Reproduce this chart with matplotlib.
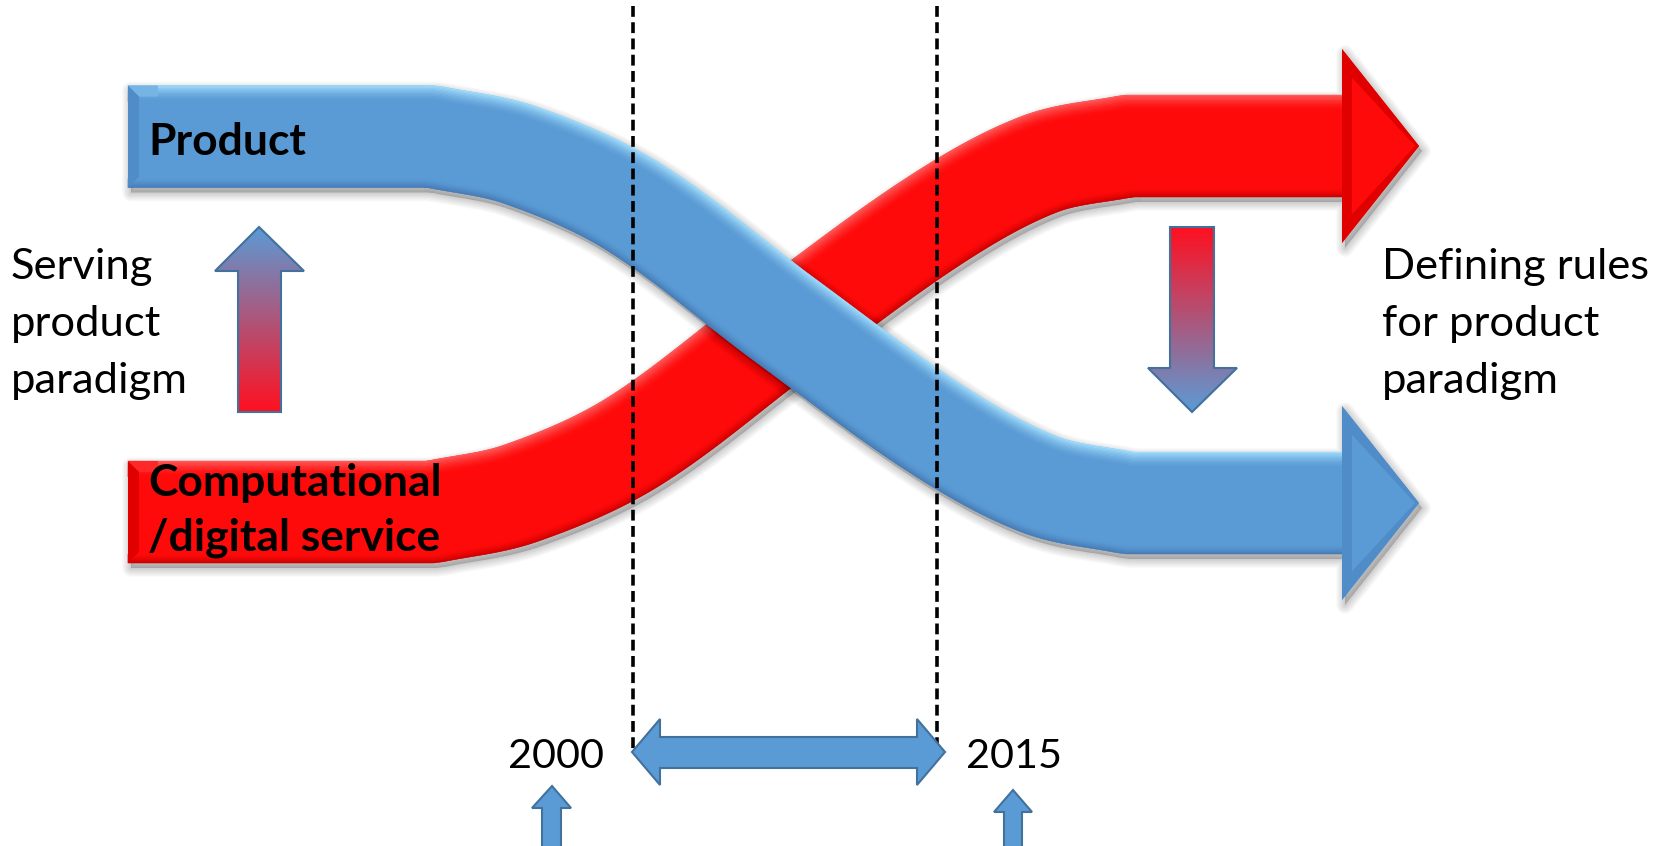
import numpy as np
import matplotlib
matplotlib.use("Agg")
import matplotlib.pyplot as plt
from matplotlib.patches import Polygon
from matplotlib.colors import to_rgb

# ---------------- data (pixel coordinates) ----------------
blue_center_x = [128, 432, 520, 633, 785, 937, 1040, 1128, 1342]
blue_center_y = [136.5, 136.5, 155, 206.5, 320, 429.5, 484.5, 503, 503]
red_center_x = [128, 432, 520, 633, 785, 937, 1040, 1128, 1342]
red_center_y = [512, 512, 493.5, 442, 328.5, 219, 164, 146, 146]
band_half_width = 51
head_tip_x = 1419
head_half_height = 97

up_arrow_x = [259, 304, 281, 281, 238, 238, 215]
up_arrow_y = [227, 271, 271, 412, 412, 271, 271]
down_arrow_x = [1192, 1237, 1214, 1214, 1170, 1170, 1148]
down_arrow_y = [412, 368, 368, 227, 227, 368, 368]
span_arrow_x = [632, 660, 660, 917, 917, 945, 917, 917, 660, 660]
span_arrow_y = [752, 719, 737, 737, 719, 752, 785, 768, 768, 785]
small_arrow_2000_x = [552, 571, 561, 561, 542, 542, 532]
small_arrow_2000_y = [786, 808, 808, 852, 852, 808, 808]
small_arrow_2015_x = [1013, 1032, 1022, 1022, 1004, 1004, 994]
small_arrow_2015_y = [790, 812, 812, 852, 852, 812, 812]
dashed_x = [633, 937]
dashed_y0 = [6, 6]
dashed_y1 = [750, 750]

left_lines = ["Serving", "product", "paradigm"]
right_lines = ["Defining rules", "for product", "paradigm"]
side_baselines = [279, 336, 393]
left_text_x = 11
right_text_x = 1382
product_label = "Product"
product_label_x, product_label_y = 148, 155
service_lines = ["Computational", "/digital service"]
service_baselines = [496, 550]
service_x = 148
year_labels = ["2000", "2015"]
year_x = [508, 966]
year_baseline = 768

BLUE = "#5B9BD5"
BLUE_LIGHT = "#A6E2FF"
BLUE_DARK = "#4479B3"
BLUE_HEAD_DARK = "#4F8CC8"
RED = "#FF0A0A"
RED_LIGHT = "#FF6060"
RED_DARK = "#C80000"
RED_HEAD_DARK = "#E00000"
EDGE = "#41719C"
FONT = "Lato"

W, H = 1667, 846
fig = plt.figure(figsize=(W / 100, H / 100), dpi=100)
fig.patch.set_facecolor("white")
ax = fig.add_axes([0, 0, 1, 1])
ax.set_xlim(0, W)
ax.set_ylim(H, 0)
ax.axis("off")


def blend(c1, c2, w):
    a = np.array(to_rgb(c1))
    b = np.array(to_rgb(c2))
    return tuple(w * a + (1 - w) * b)


def centerline(xs, ys, n=80):
    P = np.column_stack([xs, ys]).astype(float)
    mid = P[1:-1]
    s = np.concatenate([[0], np.cumsum(np.hypot(*np.diff(mid, axis=0).T))])
    m = np.zeros_like(mid)
    m[0] = (mid[1] - mid[0]) / (s[1] - s[0])
    m[-1] = (mid[-1] - mid[-2]) / (s[-1] - s[-2])
    for i in range(1, len(mid) - 1):
        m[i] = (mid[i + 1] - mid[i - 1]) / (s[i + 1] - s[i - 1])
    pts = [np.linspace(P[0], P[1], 40, endpoint=False)]
    for i in range(len(mid) - 1):
        h = s[i + 1] - s[i]
        t = np.linspace(0, 1, n, endpoint=False)[:, None]
        h00 = 2 * t**3 - 3 * t**2 + 1
        h10 = t**3 - 2 * t**2 + t
        h01 = -2 * t**3 + 3 * t**2
        h11 = t**3 - t**2
        pts.append(h00 * mid[i] + h10 * h * m[i] + h01 * mid[i + 1] + h11 * h * m[i + 1])
    pts.append(np.linspace(P[-2], P[-1], 40))
    return np.vstack(pts)


def normals(C):
    d = np.gradient(C, axis=0)
    d /= np.linalg.norm(d, axis=1)[:, None]
    return np.column_stack([d[:, 1], -d[:, 0]])


def inset_triangle(T, dist):
    A, B, Cc = T
    a = np.linalg.norm(B - Cc)
    b = np.linalg.norm(A - Cc)
    c = np.linalg.norm(A - B)
    I = (a * A + b * B + c * Cc) / (a + b + c)
    u, v = B - A, Cc - A
    area = 0.5 * abs(u[0] * v[1] - u[1] * v[0])
    r = 2 * area / (a + b + c)
    return I + (T - I) * (r - dist) / r


def strip(C, N, d1, d2, color, z):
    poly = np.vstack([C + N * d1, (C + N * d2)[::-1]])
    ax.add_patch(Polygon(poly, closed=True, fc=color, ec=color, lw=0.4, zorder=z))


def draw_band(xs, ys, base, light, dark, head_dark, z):
    C = centerline(xs, ys)
    N = normals(C)
    h = band_half_width
    top = C + N * h
    bot = C - N * h
    xe, ye = C[-1]
    head = np.array([[xe, ye - head_half_height], [head_tip_x, ye], [xe, ye + head_half_height]])
    outline = np.vstack([top, head, bot[::-1]])
    # soft shadow
    for k in range(1, 9):
        ax.add_patch(Polygon(outline + np.array([3, 5]), closed=True, fc="k", ec="k",
                             lw=k * 1.6, alpha=0.022, joinstyle="round", zorder=z))
    ax.add_patch(Polygon(outline, closed=True, fc=base, ec="none", zorder=z + 0.1))
    # top highlight (bevel)
    steps, depth = 12, 16
    for i in range(steps):
        d1 = h - depth * i / steps
        d2 = h - depth * (i + 1) / steps
        w = (1 - (i + 0.5) / steps) ** 1.6
        strip(C, N, d1, d2, blend(light, base, w), z + 0.2)
    # bottom shade
    steps, depth = 8, 9
    for i in range(steps):
        d1 = -h + depth * i / steps
        d2 = -h + depth * (i + 1) / steps
        w = (1 - (i + 0.5) / steps) ** 1.3
        strip(C, N, d1, d2, blend(dark, base, w), z + 0.2)
    # arrow head bevel (darker facets near the base)
    ax.add_patch(Polygon(head, closed=True, fc=head_dark, ec="none", zorder=z + 0.3))
    inner = inset_triangle(head, 10)
    inner[1, 0] = head_tip_x - 4
    ax.add_patch(Polygon(inner, closed=True, fc=base, ec="none", zorder=z + 0.4))
    # left end cap bevel
    x0 = C[0, 0]
    yt, yb = top[0, 1], bot[0, 1]
    cap = [(x0, yt), (x0 + 11, yt + 11), (x0 + 11, yb - 11), (x0, yb)]
    ax.add_patch(Polygon(cap, closed=True, fc=head_dark, ec="none", zorder=z + 0.5))
    cap_top = [(x0, yt), (x0 + 11, yt + 11), (x0 + 30, yt + 11), (x0 + 30, yt)]
    ax.add_patch(Polygon(cap_top, closed=True, fc=blend(light, base, 0.35), ec="none", zorder=z + 0.45))


draw_band(red_center_x, red_center_y, RED, RED_LIGHT, RED_DARK, RED_HEAD_DARK, 2)
draw_band(blue_center_x, blue_center_y, BLUE, BLUE_LIGHT, BLUE_DARK, BLUE_HEAD_DARK, 4)

# dashed period lines
for x, y0, y1 in zip(dashed_x, dashed_y0, dashed_y1):
    ax.plot([x, x], [y0, y1], color="black", lw=2.6, linestyle=(0, (3.0, 1.5)), zorder=6,
            dash_capstyle="butt")


def grad_arrow(xs, ys, c_top, c_bot, z=7):
    poly = np.column_stack([xs, ys]).astype(float)
    x0, x1 = poly[:, 0].min(), poly[:, 0].max()
    y0, y1 = poly[:, 1].min(), poly[:, 1].max()
    t = np.linspace(0, 1, 256)[:, None]
    img = (1 - t) * np.array(to_rgb(c_top)) + t * np.array(to_rgb(c_bot))
    img = img.reshape(256, 1, 3)
    im = ax.imshow(img, extent=(x0, x1, y1, y0), origin="upper", aspect="auto",
                   interpolation="bilinear", zorder=z)
    patch = Polygon(poly, closed=True, fc="none", ec=EDGE, lw=1.5, zorder=z + 0.1)
    ax.add_patch(patch)
    im.set_clip_path(patch)


grad_arrow(up_arrow_x, up_arrow_y, BLUE, "#FF1020")
grad_arrow(down_arrow_x, down_arrow_y, "#FF1020", BLUE)

for xs, ys in [(span_arrow_x, span_arrow_y), (small_arrow_2000_x, small_arrow_2000_y),
               (small_arrow_2015_x, small_arrow_2015_y)]:
    ax.add_patch(Polygon(np.column_stack([xs, ys]), closed=True, fc=BLUE, ec=EDGE,
                         lw=1.5, zorder=7))

# ---------------- text ----------------
renderer = fig.canvas.get_renderer()


def fit_size(s, target, weight="normal"):
    t = ax.text(0, 0, s, fontsize=20, fontfamily=FONT, fontweight=weight)
    w = t.get_window_extent(renderer).width
    t.remove()
    return 20 * target / w


fs_side = fit_size("Defining rules", 268)
fs_bold = fit_size("Computational", 293, "bold")
fs_year = fit_size("2000", 96)

for s, yb in zip(left_lines, side_baselines):
    ax.text(left_text_x, yb, s, fontsize=fs_side, fontfamily=FONT, va="baseline", ha="left", zorder=10)
for s, yb in zip(right_lines, side_baselines):
    ax.text(right_text_x, yb, s, fontsize=fs_side, fontfamily=FONT, va="baseline", ha="left", zorder=10)

ax.text(product_label_x, product_label_y, product_label, fontsize=fs_bold, fontfamily=FONT,
        fontweight="bold", va="baseline", ha="left", zorder=10)
for s, yb in zip(service_lines, service_baselines):
    ax.text(service_x, yb, s, fontsize=fs_bold, fontfamily=FONT, fontweight="bold",
            va="baseline", ha="left", zorder=10)
for s, x in zip(year_labels, year_x):
    ax.text(x, year_baseline, s, fontsize=fs_year, fontfamily=FONT, va="baseline", ha="left", zorder=10)

ax.set_xlim(0, W)
ax.set_ylim(H, 0)
fig.savefig("out.png", dpi=100, facecolor="white")
